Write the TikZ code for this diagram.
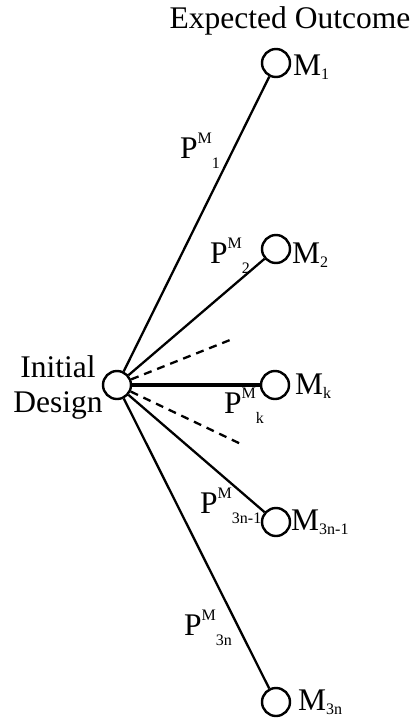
\documentclass[tikz,border=0pt]{standalone}
\usepackage{fontspec}
\setmainfont{Liberation Serif}
\newcommand\Msub[1]{M\raisebox{-4pt}{\fontsize{16}{16}\selectfont #1}}
\newcommand\Plab[1]{P\raisebox{15pt}{\fontsize{16}{16}\selectfont M}\raisebox{-10pt}{\fontsize{16}{16}\selectfont #1}}
\begin{document}
\begin{tikzpicture}[x=1pt,y=-1pt,
  state/.style={circle,draw,line width=2.4pt,minimum size=28pt,inner sep=0pt},
  big/.style={font=\fontsize{31.5}{35}\selectfont,inner sep=0pt,anchor=base west},
  edge/.style={line width=2.3pt},
  dashedge/.style={line width=2.3pt,dash pattern=on 8pt off 6pt}]
\useasboundingbox (0,0) rectangle (416,721);

\node[state] (I) at (117,385) {};
\node[state] (M1) at (276,63) {};
\node[state] (M2) at (276,249) {};
\node[state] (Mk) at (275,385) {};
\node[state] (Mn1) at (276,522) {};
\node[state] (Mn) at (276,702) {};

\coordinate (d1) at (230,340);
\coordinate (d2) at (243,445);

\draw[edge] (I) -- (M1);
\draw[edge] (I) -- (M2);
\draw[edge,line width=3.2pt] (I) -- (Mk);
\draw[edge] (I) -- (Mn1);
\draw[edge] (I) -- (Mn);
\draw[dashedge] (I) -- (d1);
\draw[dashedge] (I) -- (d2);

\node[big,anchor=base] (title) at (290,28) {Expected Outcome};
\node[big,anchor=base] (init1) at (58,377) {Initial};
\node[big,anchor=base] (init2) at (58,412) {Design};

\node[big] (lM1) at (293,75) {\Msub{1}};
\node[big] (lM2) at (292,263) {\Msub{2}};
\node[big] (lMk) at (295,394) {\Msub{k}};
\node[big] (lMn1) at (291,530) {\Msub{3n-1}};
\node[big] (lMn) at (298,710) {\Msub{3n}};

\node[big] (p1) at (180,158) {\Plab{1}};
\node[big] (p2) at (210,263) {\Plab{2}};
\node[big] (pk) at (224,413) {\Plab{k}};
\node[big] (pn1) at (200,513) {\Plab{3n-1}};
\node[big] (pn) at (184,635) {\Plab{3n}};
\end{tikzpicture}
\end{document}
